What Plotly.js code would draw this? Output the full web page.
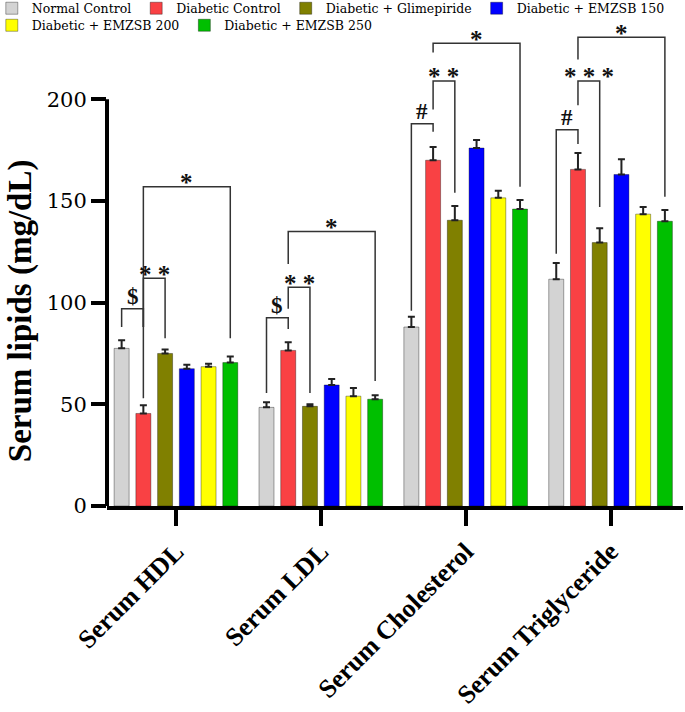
<!DOCTYPE html>
<html>
<head>
<meta charset="utf-8">
<script src="https://cdn.plot.ly/plotly-3.0.1.min.js"></script>
<style>
  html, body { margin: 0; padding: 0; background: #fff; }
  #chart { width: 685px; height: 712px; }
</style>
</head>
<body>
<div id="chart"></div>
<script>
// categories on the x axis
var categories = ['Serum HDL', 'Serum LDL', 'Serum Cholesterol', 'Serum Triglyceride'];

// treatment groups (one bar per group in every category)
var groupNames = ['Normal Control', 'Diabetic Control', 'Diabetic + Glimepiride',
                  'Diabetic + EMZSB 150', 'Diabetic + EMZSB 200', 'Diabetic + EMZSB 250'];
var groupColors = ['#d3d3d3', '#f94144', '#808000', '#0000ff', '#ffff00', '#00bf00'];

// means (mg/dL)
var normalControl   = [77.5, 48.5, 88, 111.5];
var diabeticControl = [45.5, 76.5, 170, 165.5];
var glimepiride     = [75, 49, 140.5, 129.5];
var emzsb150        = [67.5, 59.5, 176, 163];
var emzsb200        = [68.5, 54, 151.5, 143.5];
var emzsb250        = [70.5, 52.5, 146, 140];

// upper error bars (SEM)
var normalControlErr   = [4, 2.5, 5, 8];
var diabeticControlErr = [4, 4, 6.5, 8];
var glimepirideErr     = [2, 1, 7, 7];
var emzsb150Err        = [2, 3, 4, 7.5];
var emzsb200Err        = [1.5, 4, 3.5, 3.5];
var emzsb250Err        = [3, 2, 4.5, 5.5];

var means = [normalControl, diabeticControl, glimepiride, emzsb150, emzsb200, emzsb250];
var errs = [normalControlErr, diabeticControlErr, glimepirideErr, emzsb150Err, emzsb200Err, emzsb250Err];

// significance brackets: category, bar a, bar b, top, left leg end, right leg end, label
var bracketCat   = [0, 0, 0, 1, 1, 1, 2, 2, 2, 3, 3, 3];
var bracketFrom  = [0, 1, 1, 0, 1, 1, 0, 1, 1, 0, 1, 1];
var bracketTo    = [1, 2, 5, 1, 2, 5, 1, 2, 5, 1, 2, 5];
var bracketTop   = [97, 112, 157, 92.5, 107.5, 135, 188, 209, 227.5, 185, 209, 230.5];
var bracketLeft  = [88, 88, 53, 55.5, 97, 119, 96, 195, 223, 124, 197, 219.5];
var bracketRight = [88, 82.5, 82.5, 87, 55.5, 61.5, 184, 154, 157, 178, 147, 152];
var bracketLabel = ['$', '* *', '*', '$', '* *', '*', '#', '* *', '*', '#', '* * *', '*'];

var bargap = 0.1;
var nGroups = groupNames.length;
// centre of bar k inside category c (numeric x axis)
function barX(c, k) {
    var slot = (1 - bargap) / nGroups;
    return c - (1 - bargap) / 2 + slot * (k + 0.5);
}

var xIdx = categories.map(function (_, i) { return i; });

var data = [];
for (var k = 0; k < nGroups; k++) {
    data.push({
        type: 'bar',
        x: xIdx,
        y: means[k],
        name: groupNames[k],
        legend: k < 4 ? 'legend' : 'legend2',
        marker: { color: groupColors[k], line: { color: 'rgba(0,0,0,0.35)', width: 1 } },
        error_y: {
            type: 'data', symmetric: false,
            array: errs[k], arrayminus: errs[k].map(function () { return 0; }),
            color: '#222', thickness: 2, width: 3.5
        },
        hoverinfo: 'skip'
    });
}

var serif = 'Liberation Serif, Times New Roman, serif';
var legendFont = { family: 'DejaVu Serif, serif', size: 12.5, color: '#000' };

var shapes = [
    // y axis line, only up to 200
    { type: 'line', xref: 'paper', yref: 'y', x0: 0, x1: 0, y0: 0, y1: 200,
      line: { color: '#000', width: 4 } }
];
var annotations = [
    { text: 'Serum lipids (mg/dL)', xref: 'paper', yref: 'paper', x: -0.151, y: 0.406,
      xanchor: 'center', yanchor: 'middle', textangle: -90, showarrow: false,
      font: { family: serif, size: 33, weight: 'bold', color: '#000' } }
];

for (var b = 0; b < bracketCat.length; b++) {
    var xa = barX(bracketCat[b], bracketFrom[b]);
    var xb = barX(bracketCat[b], bracketTo[b]);
    shapes.push({
        type: 'path', xref: 'x', yref: 'y',
        path: 'M' + xa + ',' + bracketLeft[b] + ' L' + xa + ',' + bracketTop[b] +
              ' L' + xb + ',' + bracketTop[b] + ' L' + xb + ',' + bracketRight[b],
        line: { color: '#333', width: 1.5 }
    });
    var isStar = bracketLabel[b].indexOf('*') >= 0;
    annotations.push({
        text: bracketLabel[b], xref: 'x', yref: 'y', x: (xa + xb) / 2, y: bracketTop[b],
        xanchor: 'center', yanchor: 'middle', yshift: isStar ? 4 : 12, showarrow: false,
        font: { family: serif, size: isStar ? 25 : 23, weight: 'bold', color: '#111' }
    });
}

var layout = {
    width: 685, height: 712,
    margin: { l: 107, r: 2, t: 26, b: 206, autoexpand: false },
    paper_bgcolor: '#fff', plot_bgcolor: '#fff',
    barmode: 'group', bargap: bargap, bargroupgap: 0.31,
    xaxis: {
        type: 'linear', range: [-0.476, 3.5],
        tickvals: xIdx, ticktext: categories, tickangle: -45,
        showline: true, linecolor: '#000', linewidth: 4,
        ticks: 'outside', ticklen: 16, tickwidth: 4, tickcolor: '#000',
        showgrid: false, zeroline: false,
        tickfont: { family: serif, size: 26, weight: 'bold', color: '#000' }
    },
    yaxis: {
        range: [0, 236], tickvals: [0, 50, 100, 150, 200],
        showline: false, ticks: 'outside', ticklen: 15, tickwidth: 4, tickcolor: '#000',
        showgrid: false, zeroline: false,
        tickfont: { family: 'DejaVu Serif, serif', size: 21, color: '#000' }
    },
    legend: {
        orientation: 'h', x: -0.2, xanchor: 'left', y: 1.005, yanchor: 'bottom',
        bgcolor: 'rgba(0,0,0,0)', font: legendFont, traceorder: 'normal'
    },
    legend2: {
        orientation: 'h', x: -0.2, xanchor: 'left', y: 1.032, yanchor: 'top',
        bgcolor: 'rgba(0,0,0,0)', font: legendFont, traceorder: 'normal'
    },
    shapes: shapes,
    annotations: annotations,
    showlegend: true
};

Plotly.newPlot('chart', data, layout, { displayModeBar: false, staticPlot: true });
</script>
</body>
</html>
